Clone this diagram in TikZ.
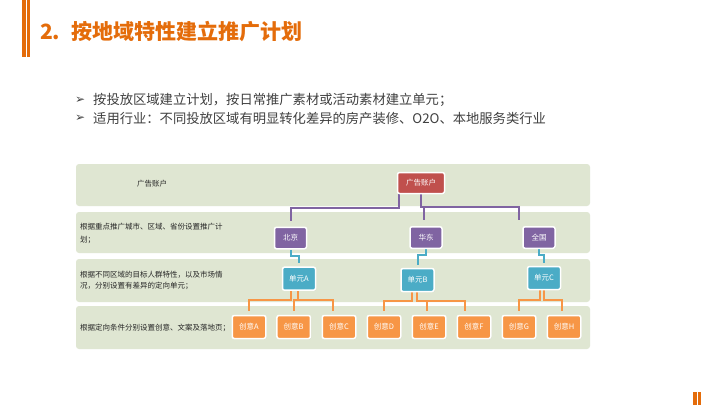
\documentclass[tikz,border=0pt]{standalone}
\usepackage{fontspec}
\setmainfont{Noto Sans CJK SC}
\newfontfamily\dejavu{DejaVu Sans}
\usetikzlibrary{calc,shadows,backgrounds}
\definecolor{ttl}{HTML}{E46C0A}
\definecolor{band}{HTML}{DFE6D2}
\definecolor{txt}{HTML}{404040}
\definecolor{lbltxt}{HTML}{262626}
\definecolor{cred}{HTML}{C0504D}
\definecolor{cpur}{HTML}{8064A2}
\definecolor{cblu}{HTML}{4BACC6}
\definecolor{cora}{HTML}{F79646}
\begin{document}
\begin{tikzpicture}[x=1pt,y=-1pt,
  bandbox/.style={fill=band, rounded corners=3pt},
  nodebox/.style={draw=white, line width=1.5pt, rounded corners=2pt, text=white,
    font=\fontsize{7.5}{9}\selectfont, inner sep=0pt,
    drop shadow={shadow xshift=0.7pt, shadow yshift=-0.7pt, opacity=0.25}},
  redbox/.style={nodebox, fill=cred, minimum width=47pt, minimum height=21pt},
  purbox/.style={nodebox, fill=cpur, minimum width=32pt, minimum height=21.5pt},
  blubox/.style={nodebox, fill=cblu, minimum width=33pt, minimum height=23pt},
  orabox/.style={nodebox, fill=cora, minimum width=33.5pt, minimum height=23pt},
  pline/.style={draw=cpur, line width=2pt},
  bline/.style={draw=cblu, line width=2pt},
  oline/.style={draw=cora, line width=2pt},
  lbl/.style={text=lbltxt, align=left, inner sep=0pt},
  bul/.style={anchor=west, inner sep=0pt, text=txt}]
\useasboundingbox (0,0) rectangle (720,405);

% decorative bars
\fill[ttl] (22,0) rectangle (26,57);
\fill[ttl] (27.3,0) rectangle (30,57);
\fill[ttl] (693,391.7) rectangle (696.7,405);
\fill[ttl] (698,391.7) rectangle (700.7,405);

% title
\node[anchor=west, inner sep=0pt, text=ttl, font=\fontsize{21}{26}\selectfont\bfseries] (title) at (40,32) {2.\hspace{11pt}按地域特性建立推广计划};

% bullets
\node[bul, font=\dejavu\fontsize{12}{14}\selectfont] (a1) at (75,100) {➢};
\node[bul, font=\fontsize{13.3}{16}\selectfont] (l1) at (93,100) {按投放区域建立计划，按日常推广素材或活动素材建立单元；};
\node[bul, font=\dejavu\fontsize{12}{14}\selectfont] (a2) at (75,118) {➢};
\node[bul, font=\fontsize{13.3}{16}\selectfont] (l2) at (93,118) {适用行业：不同投放区域有明显转化差异的房产装修、O2O、本地服务类行业};

% band labels
\node[lbl, font=\fontsize{7.5}{9}\selectfont] (t1) at (152,184) {广告账户};
\node[lbl, anchor=west, font=\fontsize{7.5}{13.3}\selectfont] (t2) at (80,233.3) {根据重点推广城市、区域、省份设置推广计\\划；};
\node[lbl, anchor=west, font=\fontsize{7.5}{11}\selectfont] (t3) at (80,280.5) {根据不同区域的目标人群特性，以及市场情\\况，分别设置有差异的定向单元；};
\node[lbl, anchor=west, font=\fontsize{7.5}{9}\selectfont] (t4) at (80,328) {根据定向条件分别设置创意、文案及落地页；};

% nodes
\node[redbox] (acct) at (421,183) {广告账户};
\node[purbox] (bj) at (290.5,238) {北京};
\node[purbox] (hd) at (426,237.5) {华东};
\node[purbox] (qg) at (539,237.5) {全国};
\node[blubox] (uA) at (299,278.7) {单元A};
\node[blubox] (uB) at (417.5,280) {单元B};
\node[blubox] (uC) at (544,278) {单元C};
\node[orabox] (cA) at (249,327) {创意A};
\node[orabox] (cB) at (293.7,327) {创意B};
\node[orabox] (cC) at (339,327) {创意C};
\node[orabox] (cD) at (384,327) {创意D};
\node[orabox] (cE) at (429,327) {创意E};
\node[orabox] (cF) at (474,327) {创意F};
\node[orabox] (cG) at (519,327) {创意G};
\node[orabox] (cH) at (564,327) {创意H};

\begin{scope}[on background layer]
\fill[white] (0,0) rectangle (720,405);
% bands
\path[bandbox] (76,164) rectangle (590,206);
\path[bandbox] (76,212) rectangle (590,253);
\path[bandbox] (76,259) rectangle (590,302);
\path[bandbox] (76,306) rectangle (590,349);

% purple connectors
\draw[pline] ($(acct.south)+(-22,0)$) |- ($(bj.north)+(0,-19)$) -- ($(bj.north)+(0,-6)$);
\draw[pline] (acct.south) |- ($(qg.north west)+(-3,-19.5)$) -- ($(qg.north west)+(-3,-6)$);
\draw[pline] ($(hd.north)+(-2,-19.5)$) -- ($(hd.north)+(-2,-6)$);

% blue connectors
\draw[bline] (bj.south) -- ++(0,6) -| ($(uA.north)+(0,-3)$);
\draw[bline] (hd.south) -- ++(0,6) -| ($(uB.north)+(0,-3)$);
\draw[bline] (qg.south) -- ++(0,6) -| ($(uC.north)+(0,-3)$);

% orange connectors
\draw[oline] ($(uA.south)+(-8,0)$) |- ($(cA.north)+(0,-15)$) -- ($(cA.north)+(0,-3.5)$);
\draw[oline] ($(uA.south)+(-1,0)$) |- ($(cB.north)+(0,-15)$) -- ($(cB.north)+(0,-3.5)$);
\draw[oline] ($(cB.north)+(0,-15)$) -| ($(cC.north)+(-6,-3.5)$);

\draw[oline] ($(uB.south)+(-6,0)$) |- ($(cD.north)+(0,-13.5)$) -- ($(cD.north)+(0,-3.5)$);
\draw[oline] ($(uB.south)+(-1,0)$) |- ($(cE.north)+(-2,-13.5)$) -- ($(cE.north)+(-2,-3.5)$);
\draw[oline] ($(cE.north)+(-2,-13.5)$) -| ($(cF.north)+(-9,-3.5)$);

\draw[oline] ($(uC.south)+(-4,0)$) |- ($(cG.north)+(0,-15)$) -- ($(cG.north)+(0,-3.5)$);
\draw[oline] (uC.south) |- ($(cH.north)+(-2,-15)$) -- ($(cH.north)+(-2,-3.5)$);
\end{scope}
\end{tikzpicture}
\end{document}
